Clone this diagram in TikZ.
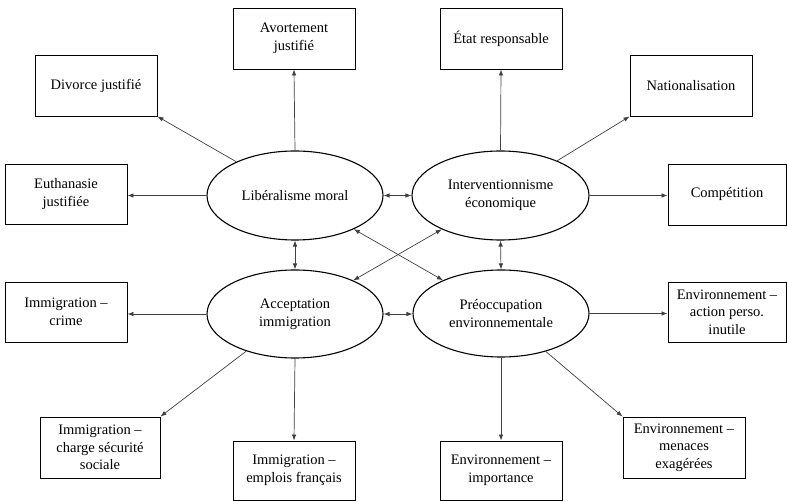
\documentclass[tikz,border=0pt]{standalone}
\usepackage{fontspec}
\setmainfont{Liberation Serif}
\usetikzlibrary{shapes.geometric,arrows.meta}
\tikzset{
  boxnode/.style={draw=black,line width=0.9pt,rectangle,minimum width=122pt,minimum height=61pt,inner sep=2pt,align=center,font=\fontsize{14.5}{17.7}\selectfont},
  latentnode/.style={draw=black,line width=1.1pt,ellipse,inner sep=0pt,align=center,font=\fontsize{14.5}{17.7}\selectfont},
  arr/.style={draw=black!75,line width=0.7pt,-{Latex[length=6pt,width=4.5pt]}},
  biarr/.style={draw=black!75,line width=0.7pt,{Latex[length=6pt,width=4.5pt]}-{Latex[length=6pt,width=4.5pt]}}
}
\begin{document}
\begin{tikzpicture}[x=1pt,y=-1pt]
\useasboundingbox (0,0) rectangle (787,502);
% latent variables
\node[latentnode,minimum width=176pt,minimum height=89pt] (lib) at (295,195.5) {Libéralisme moral};
\node[latentnode,minimum width=177pt,minimum height=89pt] (interv) at (500.5,195.5) {Interventionnisme\\économique};
\node[latentnode,minimum width=176pt,minimum height=88pt] (accept) at (295,314) {Acceptation\\immigration};
\node[latentnode,minimum width=176pt,minimum height=87pt] (preoc) at (501,313.5) {Préoccupation\\environnementale};
% indicators
\node[boxnode] (avort) at (294,38.5) {Avortement\\justifié};
\node[boxnode] (divorce) at (96,85.5) {Divorce justifié};
\node[boxnode,minimum height=60pt] (euth) at (66,194) {Euthanasie\\justifiée};
\node[boxnode] (etat) at (501,38.5) {État responsable};
\node[boxnode] (nation) at (691,85.5) {Nationalisation};
\node[boxnode,minimum width=118pt] (compet) at (727,194.5) {Compétition};
\node[boxnode,minimum height=60pt] (crime) at (66,312) {Immigration –\\crime};
\node[boxnode,minimum width=120pt] (charge) at (100,447.5) {Immigration –\\charge sécurité\\sociale};
\node[boxnode,minimum height=59pt] (emplois) at (294,470.5) {Immigration –\\emplois français};
\node[boxnode,minimum width=118pt,minimum height=60pt] (action) at (727,312) {Environnement –\\action perso.\\inutile};
\node[boxnode] (menaces) at (684,447.5) {Environnement –\\menaces\\exagérées};
\node[boxnode,minimum height=59pt] (importance) at (501,470.5) {Environnement –\\importance};
% loadings
\draw[arr] (lib.north) -- (avort.south);
\draw[arr] (lib) -- (divorce.south east);
\draw[arr] (lib.west) -- (euth.east |- lib.west);
\draw[arr] (interv.north) -- (etat.south);
\draw[arr] (interv) -- (nation.south west);
\draw[arr] (interv.east) -- (compet.west |- interv.east);
\draw[arr] (accept.west) -- (crime.east |- accept.west);
\draw[arr] (accept) -- (charge.north east);
\draw[arr] (accept.south) -- (emplois.north);
\draw[arr] (preoc.east) -- (action.west |- preoc.east);
\draw[arr] (preoc) -- (menaces.north west);
\draw[arr] (preoc.south) -- (importance.north);
% correlations
\draw[biarr] (lib.east) -- (interv.west |- lib.east);
\draw[biarr] (accept.east) -- (preoc.west |- accept.east);
\draw[biarr] (lib.south) -- (accept.north);
\draw[biarr] (interv.south) -- (preoc.north);
\draw[biarr] (lib) -- (preoc);
\draw[biarr] (interv) -- (accept);
\end{tikzpicture}
\end{document}
